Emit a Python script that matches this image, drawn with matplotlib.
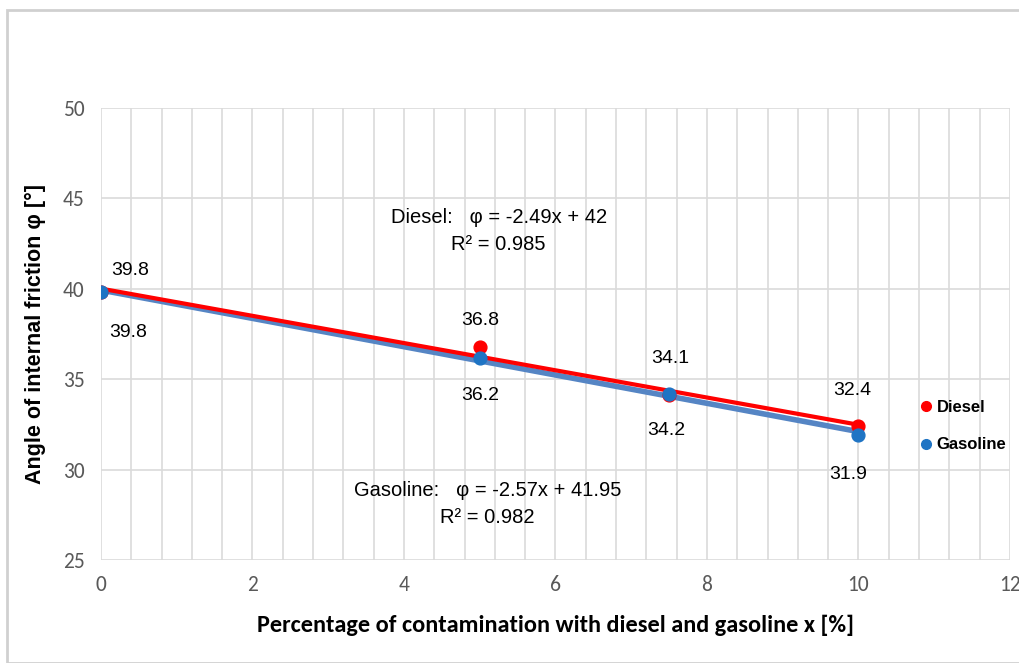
import numpy as np
import matplotlib.pyplot as plt
from matplotlib.patches import Rectangle
from matplotlib.lines import Line2D

# data
contamination = [0, 5, 7.5, 10]
diesel = [39.8, 36.8, 34.1, 32.4]
gasoline = [39.8, 36.2, 34.2, 31.9]
diesel_eq = "Diesel:   \u03c6 = -2.49x + 42\nR\u00b2 = 0.985"
gasoline_eq = "Gasoline:   \u03c6 = -2.57x + 41.95\nR\u00b2 = 0.982"
x_ticks = [0, 2, 4, 6, 8, 10, 12]
y_ticks = [25, 30, 35, 40, 45, 50]

# label placement (pixel offsets from each point), as in the reference
above_off = [(29, 22), (0, 26), (1, 37), (-6, 36)]
below_off = [(27, -40), (0, -38), (-3, -37), (-10, -39)]

red = "#ff0000"
blue_pt = "#1f74c4"
blue_ln = "#5585c4"
arial = ["Liberation Sans", "DejaVu Sans"]
narrow = ["Carlito", "Liberation Sans Narrow", "Liberation Sans", "DejaVu Sans"]
plt.rcParams["font.family"] = arial

fig = plt.figure(figsize=(10.2, 6.63), dpi=100)
fig.patches.append(Rectangle((7/1020, 0), 1.2, 1 - 10/663, transform=fig.transFigure,
                             fill=False, edgecolor="#d0d0d0", linewidth=2))
ax = fig.add_axes([101/1020, 1 - 560/663, 909/1020, 452/663])

# trend lines (least squares, drawn over the data range)
xs = np.array([contamination[0], contamination[-1]])
d_fit = np.polyfit(contamination, diesel, 1)
g_fit = np.polyfit(contamination, gasoline, 1)
ax.plot(xs, np.polyval(g_fit, xs), color=blue_ln, lw=4, zorder=3)
ax.plot(xs, np.polyval(d_fit, xs), color=red, lw=3, zorder=4)

ax.scatter(contamination, diesel, s=85, color=red, zorder=5)
ax.scatter(contamination, gasoline, s=85, color=blue_pt, zorder=5)

for i, x in enumerate(contamination):
    ax.annotate(f"{diesel[i]}", (x, diesel[i]), xytext=above_off[i], textcoords="offset pixels",
                ha="center", va="center", fontsize=14)
    ax.annotate(f"{gasoline[i]}", (x, gasoline[i]), xytext=below_off[i], textcoords="offset pixels",
                ha="center", va="center", fontsize=14)

ax.text(5.25, 43.2, diesel_eq, ha="center", va="center", fontsize=14.5, linespacing=1.5)
ax.text(5.1, 28.1, gasoline_eq, ha="center", va="center", fontsize=14.5, linespacing=1.5)

ax.set_xlim(0, 12)
ax.set_ylim(25, 50)
ax.set_xticks(x_ticks)
ax.set_yticks(y_ticks)
ax.set_xticks([t for t in np.round(np.arange(0, 12.01, 0.4), 2) if t not in x_ticks], minor=True)
ax.grid(True, which="major", color="#dadada", lw=1.2)
ax.grid(True, which="minor", axis="x", color="#dadada", lw=1.2)
ax.tick_params(which="both", length=0)
ax.tick_params(axis="both", labelsize=15.5, labelcolor="#595959")
ax.tick_params(axis="x", pad=11)
ax.tick_params(axis="y", pad=12)
for lab in ax.get_xticklabels() + ax.get_yticklabels():
    lab.set_family(narrow)
for s in ax.spines.values():
    s.set_visible(False)
ax.set_axisbelow(True)

ax.set_xlabel("Percentage of contamination with diesel and gasoline x [%]",
              fontsize=17.5, fontweight="bold", family=narrow, labelpad=14)
ax.set_ylabel("Angle of internal friction \u03c6 [\u00b0]", fontsize=15.5,
              fontweight="bold", labelpad=12)

handles = [Line2D([], [], ls="none", marker="o", ms=7, color=red),
           Line2D([], [], ls="none", marker="o", ms=7, color=blue_pt)]
leg = ax.legend(handles, ["Diesel", "Gasoline"], loc="center left",
                bbox_to_anchor=(0.88, 0.296), frameon=False, handletextpad=0.05,
                handlelength=1.2, labelspacing=1.35, prop={"weight": "bold", "size": 12})

fig.savefig("out.png", dpi=100)
